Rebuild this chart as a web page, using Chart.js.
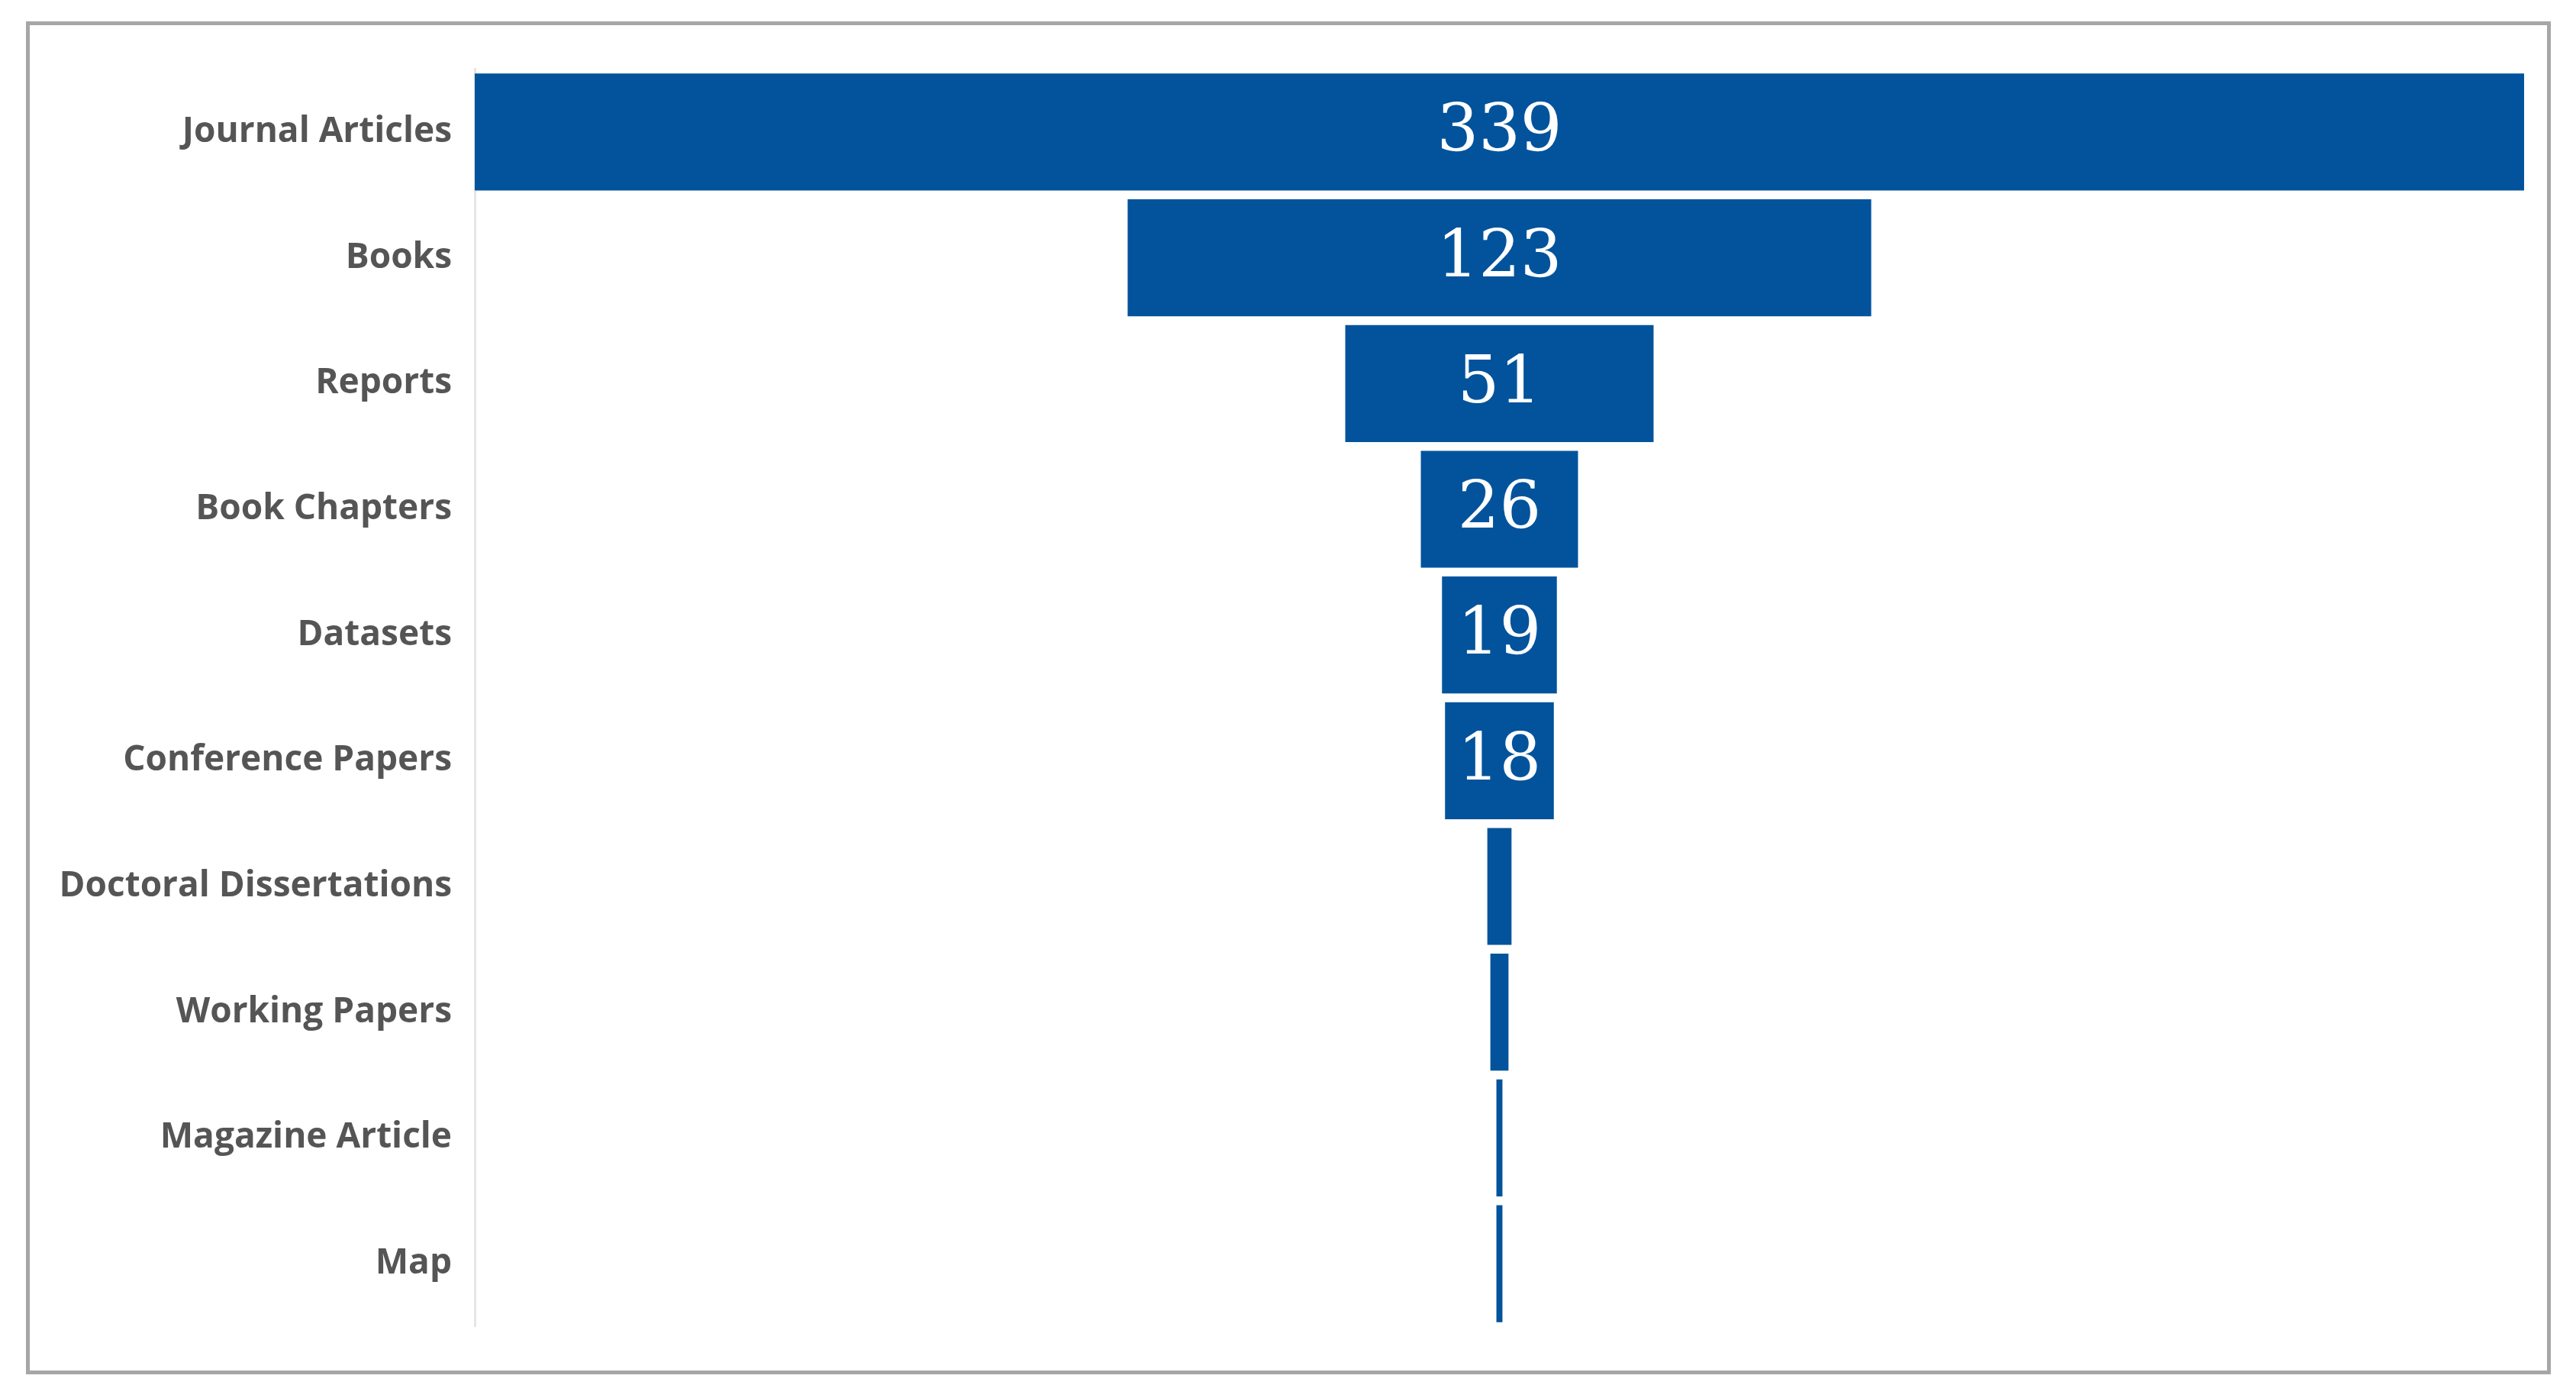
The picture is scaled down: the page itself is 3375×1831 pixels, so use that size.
<!DOCTYPE html>
<html>
<head>
<meta charset="utf-8">
<script src="https://cdn.jsdelivr.net/npm/chart.js@4"></script>
<style>
  html, body { margin: 0; background: #fff; }
  #box { position: absolute; left: 34px; top: 28px; width: 3298px; height: 1762px;
         border: 5px solid #a6a6a6; background: #fff; }
  canvas { display: block; }
</style>
</head>
<body>
<div id="box"><canvas id="funnel"></canvas></div>
<script>
// categories and counts for the funnel
const categories = ['Journal Articles', 'Books', 'Reports', 'Book Chapters', 'Datasets',
  'Conference Papers', 'Doctoral Dissertations', 'Working Papers', 'Magazine Article', 'Map'];
const counts = [339, 123, 51, 26, 19, 18, 4, 3, 1, 1];
const maxCount = Math.max(...counts);

// draw the count in the middle of the bigger bars
const valueLabels = {
  id: 'valueLabels',
  afterDatasetsDraw(chart) {
    const ctx = chart.ctx;
    const meta = chart.getDatasetMeta(0);
    ctx.save();
    ctx.fillStyle = '#fff';
    ctx.font = '86px "DejaVu Serif", "Liberation Serif", serif';
    ctx.textAlign = 'center';
    ctx.textBaseline = 'middle';
    meta.data.forEach((bar, i) => {
      if (counts[i] < 10) return;
      const c = (bar.x + bar.base) / 2;
      ctx.fillText(String(counts[i]), c, bar.y + 2);
    });
    ctx.restore();
  }
};

new Chart(document.getElementById('funnel'), {
  type: 'bar',
  data: {
    labels: categories,
    datasets: [{
      data: counts.map(v => [-v / 2, v / 2]),
      backgroundColor: '#02539c',
      borderWidth: 0,
      categoryPercentage: 0.93,
      barPercentage: 1
    }]
  },
  options: {
    indexAxis: 'y',
    responsive: true,
    maintainAspectRatio: false,
    animation: false,
    layout: { padding: { top: 34, bottom: 30, right: 30, left: 0 } },
    plugins: { legend: { display: false }, tooltip: { enabled: false } },
    scales: {
      x: { display: false, min: -maxCount / 2, max: maxCount / 2 },
      y: {
        grid: { display: false, drawTicks: false },
        border: { display: true, color: '#e6e6e6', width: 3 },
        ticks: {
          color: '#555',
          font: { family: '"Open Sans", "Liberation Sans", sans-serif', size: 46, weight: 'bold' },
          padding: 30
        },
        afterFit(axis) { axis.width = 583; }
      }
    }
  },
  plugins: [valueLabels]
});
</script>
</body>
</html>
